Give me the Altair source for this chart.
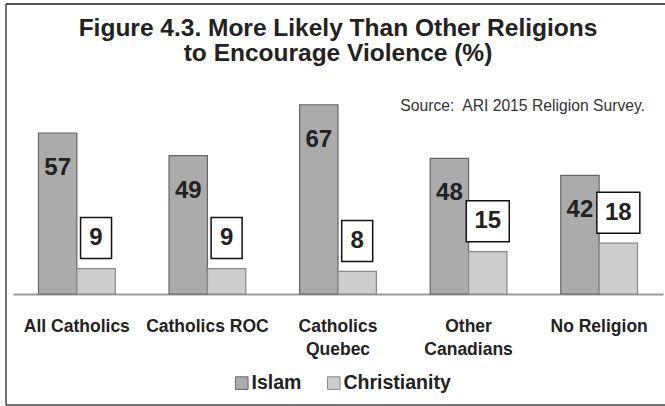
import altair as alt
import pandas as pd

categories = ["All Catholics", "Catholics ROC", "Catholics Quebec", "Other Canadians", "No Religion"]
series = ["Islam", "Christianity"]
islam = [57, 49, 67, 48, 42]
christianity = [9, 9, 8, 15, 18]
title_lines = ["Figure 4.3. More Likely Than Other Religions", "to Encourage Violence (%)"]
source_note = "Source:\u00a0 ARI 2015 Religion Survey."

rows = []
for c, a, b in zip(categories, islam, christianity):
    rows.append({"category": c, "religion": "Islam", "value": a})
    rows.append({"category": c, "religion": "Christianity", "value": b})
df = pd.DataFrame(rows)

FONT = "Liberation Sans"
W, H = 650, 226
YMAX = 80
PX = H / YMAX  # pixels per unit

x_enc = alt.X(
    "category:N", sort=categories,
    scale=alt.Scale(paddingInner=0.412, paddingOuter=0.195),
    axis=alt.Axis(
        title=None, ticks=False, labelAngle=0, domainColor="#9a9a9a", domainWidth=2,
        labelFont=FONT, labelFontSize=17.5, labelFontWeight="bold", labelColor="#222222",
        labelPadding=23, labelBaseline="top", labelLineHeight=23, grid=False,
        labelExpr="datum.label == 'Catholics Quebec' ? ['Catholics','Quebec'] : datum.label == 'Other Canadians' ? ['Other','Canadians'] : datum.label",
    ),
)
xo_enc = alt.XOffset("religion:N", sort=series, scale=alt.Scale(paddingInner=0, paddingOuter=0))
y_scale = alt.Scale(domain=[0, YMAX])


def y_of(field):
    return alt.Y(field, scale=y_scale, axis=None)


base = alt.Chart(df)

bars = base.mark_bar(strokeWidth=1.2).encode(
    x=x_enc, xOffset=xo_enc,
    y=y_of("value:Q"),
    fill=alt.Fill(
        "religion:N", sort=series,
        scale=alt.Scale(domain=series, range=["#ababab", "#cdcdcd"]),
        legend=alt.Legend(
            title=None, orient="none", direction="horizontal", legendX=219, legendY=305,
            symbolType="square", symbolSize=160, symbolStrokeColor="#555555", symbolStrokeWidth=1,
            labelFont=FONT, labelFontSize=19.5, labelFontWeight="bold", labelColor="#222222",
            columnPadding=22, labelOffset=0,
        ),
    ),
    stroke=alt.Stroke("religion:N", sort=series,
                      scale=alt.Scale(domain=series, range=["#666666", "#888888"]), legend=None),
)

islam_labels = base.transform_filter(alt.datum.religion == "Islam").mark_text(
    font=FONT, fontSize=24, fontWeight="bold", color="#222222", baseline="middle", dy=35
).encode(x=x_enc, xOffset=xo_enc, y=y_of("value:Q"), text="value:Q")

chr_base = base.transform_filter(alt.datum.religion == "Christianity").transform_calculate(
    b0=alt.datum.value + 10 / PX, b1=alt.datum.value + 51 / PX
)
box_small = chr_base.transform_filter(alt.datum.value < 10).mark_bar(
    width=31, fill="white", stroke="#111111", strokeWidth=1.5
).encode(x=x_enc, xOffset=xo_enc, y=y_of("b0:Q"), y2="b1:Q")
box_large = chr_base.transform_filter(alt.datum.value >= 10).mark_bar(
    width=43, fill="white", stroke="#111111", strokeWidth=1.5
).encode(x=x_enc, xOffset=xo_enc, y=y_of("b0:Q"), y2="b1:Q")
chr_labels = chr_base.mark_text(
    font=FONT, fontSize=24, fontWeight="bold", color="#222222", baseline="middle", dy=-30.5
).encode(x=x_enc, xOffset=xo_enc, y=y_of("value:Q"), text="value:Q")

note = alt.Chart(pd.DataFrame({"t": [source_note]})).mark_text(
    font=FONT, fontSize=15.7, color="#333333", align="right", baseline="middle"
).encode(text="t:N", x=alt.value(632), y=alt.value(38))

one = alt.Chart(pd.DataFrame({"k": [0]}))
frame_left = one.mark_rule(color="#444444", strokeWidth=1.5).encode(
    x=alt.value(-7), y=alt.value(-64), y2=alt.value(337))
frame_top = one.mark_rule(color="#555555", strokeWidth=1.8).encode(
    x=alt.value(-7), x2=alt.value(660), y=alt.value(-64))
frame_bottom = one.mark_rule(color="#444444", strokeWidth=1.5).encode(
    x=alt.value(-7), x2=alt.value(660), y=alt.value(337))

chart = alt.layer(
    frame_left, frame_top, frame_bottom,
    bars, islam_labels, box_small, box_large, chr_labels, note,
).properties(
    width=W, height=H,
    background="white",
    title=alt.TitleParams(
        title_lines, font=FONT, fontSize=24.5, fontWeight="bold", color="#222222",
        anchor="middle", lineHeight=25, offset=-82, frame="group", baseline="alphabetic",
    ),
    padding={"left": 13, "top": 68, "right": 2, "bottom": 112},
    autosize=alt.AutoSizeParams(type="none"),
).configure_view(stroke=None, strokeWidth=0).configure_axis(grid=False)

chart.save("out.html", embed_options={"renderer": "svg", "actions": False})
